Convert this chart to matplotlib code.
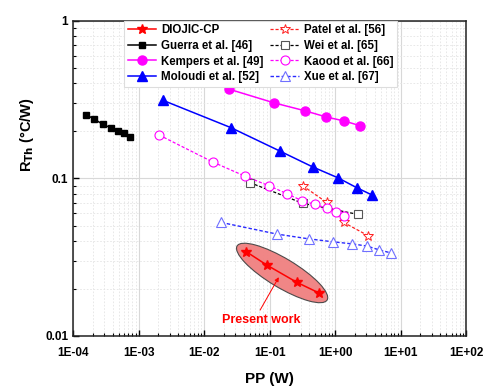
"""Thermal resistance vs pumping power comparison chart."""
import matplotlib
matplotlib.use("Agg")
import matplotlib.pyplot as plt
import matplotlib.transforms as mtransforms
from matplotlib.patches import Ellipse
from matplotlib.ticker import FuncFormatter, LogLocator, FixedLocator
import numpy as np

plt.rcParams["font.family"] = ["Liberation Sans", "DejaVu Sans"]
plt.rcParams["font.weight"] = "bold"

# ── Data ─────────────────────────────────────────────────────────────────────
diojic_pp = [0.0442, 0.0903, 0.260, 0.558]
diojic_rth = [0.0342, 0.0282, 0.0219, 0.0188]

guerra_pp = [1.56e-4, 2.12e-4, 2.85e-4, 3.78e-4, 4.77e-4, 5.89e-4, 7.28e-4]
guerra_rth = [0.254, 0.237, 0.220, 0.209, 0.201, 0.193, 0.183]

kempers_pp = [0.0239, 0.117, 0.348, 0.731, 1.38, 2.37]
kempers_rth = [0.368, 0.301, 0.268, 0.245, 0.231, 0.216]

moloudi_pp = [2.33e-3, 0.0254, 0.143, 0.457, 1.09, 2.16, 3.70]
moloudi_rth = [0.313, 0.210, 0.149, 0.118, 0.101, 0.087, 0.0782]

patel_pp = [0.321, 0.741, 1.35, 3.21]
patel_rth = [0.0896, 0.0704, 0.0525, 0.0432]

wei_pp = [0.0501, 0.325, 2.26]
wei_rth = [0.0939, 0.0693, 0.0590]

kaood_pp = [2.07e-3, 0.0135, 0.0425, 0.0986, 0.187, 0.310, 0.495, 0.741, 1.03, 1.38]
kaood_rth = [0.188, 0.127, 0.103, 0.0896, 0.0796, 0.0722, 0.0683, 0.0645, 0.0611, 0.0578]

xue_pp = [0.0183, 0.129, 0.397, 0.916, 1.81, 3.03, 4.69, 7.16]
xue_rth = [0.0525, 0.0443, 0.0413, 0.0396, 0.0384, 0.0372, 0.0352, 0.0336]

x_decades = [1e-4, 1e-3, 1e-2, 1e-1, 1e0, 1e1, 1e2]
y_decades = [0.01, 0.1, 1]
y_labels = ["0.01", "0.1", "1"]

fig = plt.figure(figsize=(4.97, 3.90), dpi=100)
ax = fig.add_axes([0.147, 0.1385, 0.791, 0.8085])

# ── Series ───────────────────────────────────────────────────────────────────
ax.plot(diojic_pp, diojic_rth, "-*", color="red", lw=1.1, ms=7,
        label="DIOJIC-CP", zorder=5)
ax.plot(guerra_pp, guerra_rth, "-s", color="black", lw=1.1, ms=5,
        label="Guerra et al. [46]")
ax.plot(kempers_pp, kempers_rth, "-o", color="#ff00ff", lw=1.1, ms=6.5,
        label="Kempers et al. [49]")
ax.plot(moloudi_pp, moloudi_rth, "-^", color="#0000ff", lw=1.1, ms=6.5,
        label="Moloudi et al. [52]")
ax.plot(patel_pp, patel_rth, "--*", color="#ff2020", lw=0.9, ms=7.5,
        mfc="white", mew=0.7, dashes=(2.5, 1.5), label="Patel et al. [56]")
ax.plot(wei_pp, wei_rth, "--s", color="black", lw=0.9, ms=5.5,
        mfc="white", mec="#555555", mew=0.8, dashes=(2.5, 1.5),
        label="Wei et al. [65]")
ax.plot(kaood_pp, kaood_rth, "--o", color="#ff00ff", lw=0.9, ms=6.5,
        mfc="white", mew=0.8, dashes=(2.5, 1.5), label="Kaood et al. [66]")
ax.plot(xue_pp, xue_rth, "--^", color="#2a2aff", lw=1.0, ms=7,
        mfc="white", mec="#7070ff", mew=0.8, dashes=(2.5, 1.5),
        label="Xue et al. [67]")

# ── "Present work" highlight ─────────────────────────────────────────────────
cx = 10 ** np.mean(np.log10(diojic_pp))
cy = 10 ** np.mean(np.log10(diojic_rth))
ell_trans = fig.dpi_scale_trans + mtransforms.ScaledTranslation(cx, cy, ax.transData)
ax.add_patch(Ellipse((0, 0), 1.05, 0.29, angle=-31, transform=ell_trans,
                     facecolor="#f08080", edgecolor="#444444", lw=0.8,
                     alpha=0.95, zorder=3))
ax.annotate("Present work", xy=(0.138, 0.0236), xytext=(0.0757, 0.0126),
            color="red", fontsize=9, fontweight="bold", ha="center",
            va="center",
            arrowprops=dict(arrowstyle="-|>", color="red", lw=0.7,
                            mutation_scale=6, shrinkA=1, shrinkB=0,
                            relpos=(0.45, 1.0)))

# ── Axes styling ─────────────────────────────────────────────────────────────
ax.set_xscale("log")
ax.set_yscale("log")
ax.set_xlim(x_decades[0], x_decades[-1])
ax.set_ylim(y_decades[0], y_decades[-1])
ax.xaxis.set_major_locator(FixedLocator(x_decades))
ax.xaxis.set_major_formatter(
    FuncFormatter(lambda v, _: f"1E{int(round(np.log10(v))):+03d}"))
ax.yaxis.set_major_locator(FixedLocator(y_decades))
ax.yaxis.set_major_formatter(
    FuncFormatter(lambda v, _: dict(zip(y_decades, y_labels)).get(v, "")))
ax.xaxis.set_minor_locator(LogLocator(base=10, subs=np.arange(2, 10)))
ax.yaxis.set_minor_locator(LogLocator(base=10, subs=np.arange(2, 10)))
ax.xaxis.set_minor_formatter(FuncFormatter(lambda v, _: ""))
ax.yaxis.set_minor_formatter(FuncFormatter(lambda v, _: ""))

ax.tick_params(which="major", direction="in", length=4, width=1,
               labelsize=8.5)
ax.tick_params(axis="x", which="major", pad=8)
ax.tick_params(which="minor", direction="in", length=2.5, width=0.8)
ax.tick_params(top=False, right=False, which="both")
for lab in ax.get_xticklabels() + ax.get_yticklabels():
    lab.set_fontweight("bold")
for sp in ax.spines.values():
    sp.set_linewidth(1.1)
    sp.set_color("#222222")

ax.grid(True, which="major", color="#d8d8d8", lw=0.8)
ax.grid(True, which="minor", color="#e4e4e4", lw=0.6, ls=(0, (2, 2)))
ax.set_axisbelow(True)

ax.set_xlabel("PP (W)", fontsize=11, fontweight="bold")
ax.xaxis.set_label_coords(0.5, -0.115)
ax.set_ylabel(r"R$_{\mathbf{Th}}$ (°C/W)", fontsize=10.5, fontweight="bold")
ax.yaxis.set_label_coords(-0.095, 0.64)

leg = ax.legend(ncol=2, loc="upper left", bbox_to_anchor=(0.13, 1.0),
                fontsize=8.3, frameon=True, fancybox=False, framealpha=1,
                edgecolor="#dddddd", handlelength=2.5, handletextpad=0.4,
                columnspacing=0.6, labelspacing=0.32, borderpad=0.3,
                borderaxespad=0)
for t in leg.get_texts():
    t.set_fontweight("bold")
leg.get_frame().set_linewidth(0.8)

fig.savefig("out.png", dpi=100, facecolor="white")
